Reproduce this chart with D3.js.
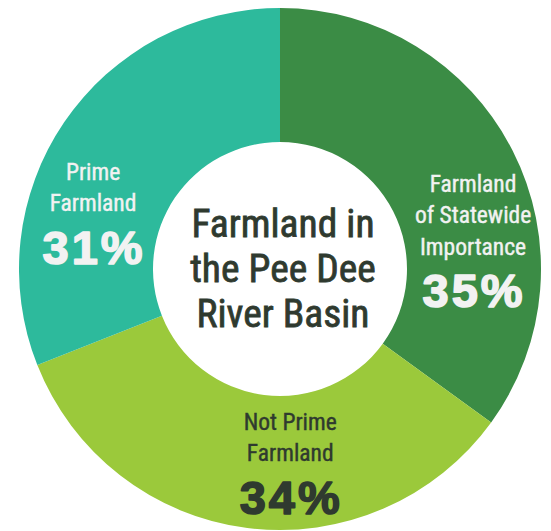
<!DOCTYPE html>
<html>
<head>
<meta charset="utf-8">
<script src="https://cdn.jsdelivr.net/npm/d3@7"></script>
<style>
  html, body { margin: 0; padding: 0; background: #ffffff; }
  svg { display: block; }
  .lbl { font-family: "Roboto Condensed", "Liberation Sans Narrow", "DejaVu Sans Condensed", Roboto, sans-serif; font-weight: 400; }
  .pct { font-family: "Liberation Sans", Arial, sans-serif; font-weight: 700; }
</style>
</head>
<body>
<svg id="chart" width="551" height="531"></svg>
<script>
// ---- data ----
const categories = ["Farmland of Statewide Importance", "Not Prime Farmland", "Prime Farmland"];
const labelLines = [["Farmland", "of Statewide", "Importance"], ["Not Prime", "Farmland"], ["Prime", "Farmland"]];
const values = [35, 34, 31];
const colors = ["#3b8c45", "#9bc93b", "#2dba9c"];
const textColors = ["#f2f2f2", "#2f3a2f", "#f2f2f2"];
const titleLines = ["Farmland in", "the Pee Dee", "River Basin"];

// ---- layout ----
const W = 551, H = 531;
const cx = 280, cy = 269;
const outerR = 261, innerR = 127;
const labelR = 195;
const labelShiftDeg = [18.9, -10.2, -17.7];
const lineH = 31.5, capH = 16, pctGap = 52.5;

const svg = d3.select("#chart");
const g = svg.append("g").attr("transform", `translate(${cx},${cy})`);

const pie = d3.pie().sort(null).value(d => d)(values);
const arc = d3.arc().innerRadius(innerR).outerRadius(outerR);

g.selectAll("path.slice").data(pie).join("path")
  .attr("class", "slice")
  .attr("d", arc)
  .attr("fill", (d, i) => colors[i]);

// labels
pie.forEach((d, i) => {
  const mid = (d.startAngle + d.endAngle) / 2 + labelShiftDeg[i] * Math.PI / 180;
  const [px, py] = d3.pointRadial(mid, labelR);
  const n = labelLines[i].length;
  const blockH = capH + (n - 1) * lineH + pctGap;
  const b0 = py - blockH / 2 + capH;
  const t = g.append("g").attr("fill", textColors[i]).attr("text-anchor", "middle");
  labelLines[i].forEach((line, j) => {
    t.append("text").attr("class", "lbl")
      .attr("x", px).attr("y", b0 + j * lineH)
      .attr("font-size", 23.5)
      .attr("stroke", textColors[i])
      .attr("stroke-width", 0.4)
      .text(line);
  });
  t.append("text").attr("class", "pct")
    .attr("x", px + 1).attr("y", b0 + (n - 1) * lineH + pctGap)
    .attr("font-size", 47)
    .attr("letter-spacing", 3)
    .attr("stroke", textColors[i])
    .attr("stroke-width", 1.6)
    .attr("stroke-linejoin", "round")
    .text(values[i] + "%");
});

// center title
const tg = g.append("g").attr("fill", "#2f3a2f").attr("stroke", "#2f3a2f")
  .attr("stroke-width", 0.8).attr("text-anchor", "middle");
titleLines.forEach((line, j) => {
  tg.append("text").attr("class", "lbl")
    .attr("x", 3).attr("y", -32 + j * 45)
    .attr("font-size", 39.5)
    .text(line);
});
</script>
</body>
</html>
